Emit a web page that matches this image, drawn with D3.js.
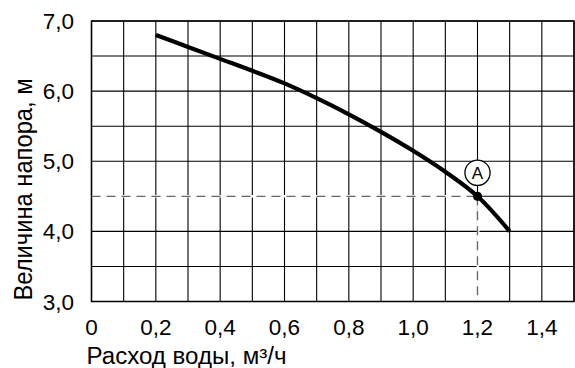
<!DOCTYPE html>
<html><head><meta charset="utf-8">
<script src="https://cdn.jsdelivr.net/npm/d3@7"></script>
<style>body{margin:0;background:#fff}svg{display:block}text{font-family:"Liberation Sans",Arial,sans-serif;fill:#000}</style>
</head><body><svg id="c" width="575" height="368"></svg>
<script>
const flow = [0.2,0.3,0.4,0.5,0.6,0.7,0.8,0.9,1.0,1.1,1.2,1.3];
const head = [6.80,6.63,6.46,6.29,6.11,5.90,5.67,5.42,5.15,4.85,4.50,4.00];
const xTicks = [0,0.2,0.4,0.6,0.8,1.0,1.2,1.4];
const yTicks = [3,4,5,6,7];
const xGrid = d3.range(0,16).map(i=>i/10);
const yGrid = d3.range(0,9).map(i=>3+i/2);
const pointA = {x:1.2, y:4.5, label:"A"};
const xTitle = "Расход воды, м³/ч";
const yTitle = "Величина напора, м";

const svg = d3.select("#c");
const x = d3.scaleLinear().domain([0,1.5]).range([91.5,574]);
const y = d3.scaleLinear().domain([3,7]).range([301.5,21]);
const fmt = d => d===0 ? "0" : d3.format(".1f")(d).replace(".",",");

const g = svg.append("g");
g.selectAll(".vg").data(xGrid).join("line")
  .attr("x1",d=>x(d)).attr("x2",d=>x(d)).attr("y1",y(3)).attr("y2",y(7))
  .attr("stroke","#000").attr("stroke-width",1.1);
g.selectAll(".hg").data(yGrid).join("line")
  .attr("x1",x(0)).attr("x2",x(1.5)).attr("y1",d=>y(d)).attr("y2",d=>y(d))
  .attr("stroke","#000").attr("stroke-width",1.1);
g.append("rect").attr("x",x(0)).attr("y",y(7)).attr("width",x(1.5)-x(0)).attr("height",y(3)-y(7))
  .attr("fill","none").attr("stroke","#000").attr("stroke-width",1.5);

const guides = [[x(0),y(pointA.y),x(pointA.x),y(pointA.y)],[x(pointA.x),y(pointA.y),x(pointA.x),y(3)-1]];
guides.forEach(s=>{
  g.append("line").attr("x1",s[0]+1).attr("y1",s[1]).attr("x2",s[2]).attr("y2",s[3])
    .attr("stroke","#fff").attr("stroke-width",2.5);
  g.append("line").attr("x1",s[0]).attr("y1",s[1]).attr("x2",s[2]).attr("y2",s[3])
    .attr("stroke","#666").attr("stroke-width",1.3).attr("stroke-dasharray","9,6");
});

const data = flow.map((f,i)=>({x:f,y:head[i]}));
svg.append("path").datum(data)
  .attr("d",d3.line().x(d=>x(d.x)).y(d=>y(d.y)).curve(d3.curveCatmullRom.alpha(0.5)))
  .attr("fill","none").attr("stroke","#000").attr("stroke-width",4.2);
svg.append("circle").attr("cx",x(pointA.x)).attr("cy",y(pointA.y)).attr("r",4.6).attr("fill","#000");

const ly = y(pointA.y) - 23.5;
svg.append("circle").attr("cx",x(pointA.x)).attr("cy",ly).attr("r",12.6)
  .attr("fill","#fff").attr("stroke","#000").attr("stroke-width",1.3);
svg.append("text").attr("x",x(pointA.x)).attr("y",ly).attr("dy","0.36em")
  .attr("text-anchor","middle").style("font-size","17px").text(pointA.label);

svg.selectAll(".xt").data(xTicks).join("text")
  .attr("x",d=>x(d)).attr("y",335).attr("text-anchor","middle")
  .style("font-size","22.5px").text(fmt);
svg.selectAll(".yt").data(yTicks).join("text")
  .attr("x",74).attr("y",d=>y(d)).attr("dy","0.36em").attr("text-anchor","end")
  .style("font-size","22.5px").text(fmt);
svg.append("text").attr("x",86.5).attr("y",364).style("font-size","23px")
  .attr("textLength",200).attr("lengthAdjust","spacingAndGlyphs").text(xTitle);
svg.append("text").attr("transform","translate(32,189.5) rotate(-90)")
  .attr("text-anchor","middle").style("font-size","25px")
  .attr("textLength",222).attr("lengthAdjust","spacingAndGlyphs").text(yTitle);
</script></body></html>
